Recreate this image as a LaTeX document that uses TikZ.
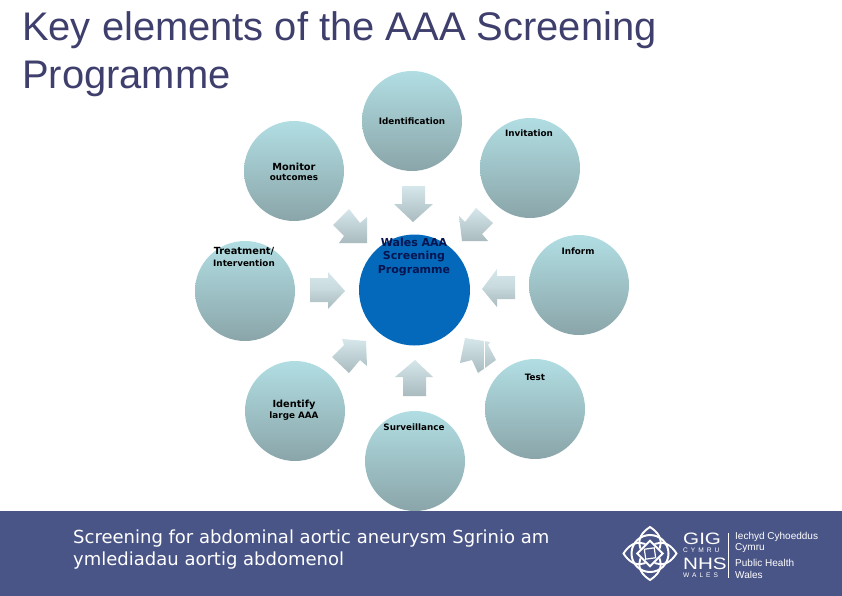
\documentclass[tikz,border=0pt]{standalone}
\usepackage{fontspec}
\usetikzlibrary{calc}
\setmainfont{Liberation Sans}
\newfontfamily\lblfont{DejaVu Sans}
\definecolor{band}{HTML}{4A5587}
\definecolor{titlecol}{HTML}{3F3F6E}
\definecolor{hub}{HTML}{0569BB}
\definecolor{hubtext}{HTML}{06144F}
\definecolor{arrowtop}{HTML}{D6E7EB}
\definecolor{arrowbot}{HTML}{A9BBBE}
\definecolor{stagetop}{HTML}{B1DEE3}
\definecolor{stagemid}{HTML}{A8CFD4}
\definecolor{stagebot}{HTML}{8AA5A9}
\pgfdeclareverticalshading{hband}{100bp}{color(0bp)=(arrowbot); color(25bp)=(arrowbot); color(49bp)=(arrowbot!40!arrowtop); color(51bp)=(arrowtop!70!arrowbot); color(75bp)=(arrowtop); color(100bp)=(arrowtop)}
\tikzset{
  x=1pt,y=-1pt,
  stage/.style={circle,minimum size=100pt,inner sep=0pt,top color=stagetop,middle color=stagemid,bottom color=stagebot},
  hubnode/.style={circle,fill=hub,minimum size=111pt,inner sep=0pt},
  blockarrow/.style={top color=arrowtop,bottom color=arrowbot,draw=none},
  bandarrow/.style={shading=hband,draw=none},
  lab/.style={font=\lblfont\bfseries\fontsize{9.8}{10}\selectfont,text=black,inner sep=0pt,align=center},
  labs/.style={font=\lblfont\bfseries\fontsize{8.8}{10}\selectfont,text=black,inner sep=0pt,align=center},
  hublab/.style={font=\lblfont\bfseries\fontsize{11}{11}\selectfont,text=hubtext,inner sep=0pt,text height=8pt,text depth=2pt},
  logotext/.style={font=\fontsize{#1}{#1}\selectfont,text=white,inner sep=0pt,anchor=west},
  logobig/.style={font=\fontsize{16.5}{17}\selectfont\addfontfeature{FakeStretch=1.25},text=white,inner sep=0pt,anchor=west},
  logocaps/.style={font=\fontsize{6.6}{7}\selectfont\addfontfeature{LetterSpace=45},text=white,inner sep=0pt,anchor=west},
  knot/.style={draw=white,line width=1.9pt,fill=none}
}
\begin{document}
\begin{tikzpicture}
\useasboundingbox (0,0) rectangle (842,596);
\fill[white] (0,0) rectangle (842,596);
\fill[band] (0,511) rectangle (842,596);
\node[anchor=west,inner sep=0pt,text=titlecol,font=\fontsize{39.9}{48}\selectfont,align=left] (title) at (22,54.5) {Key elements of the AAA Screening\\Programme};
% circles
\node[stage] (identification) at (412,121) {};
\node[stage] (invitation) at (530,168) {};
\node[stage] (monitor) at (294,171) {};
\node[stage] (treatment) at (245,291) {};
\node[stage] (inform) at (579,285) {};
\node[stage] (test) at (535,409) {};
\node[stage] (identify) at (295,411) {};
\node[stage] (surveillance) at (415,461) {};
\node[hubnode] (hub) at (414.5,290) {};
% arrows
\path[blockarrow] (402,186)--(425,186)--(425,204)--(433,204)--(413,222)--(394,204)--(402,204)--cycle;
\path[blockarrow] (349,209)--(333,225)--(344,236)--(339,243)--(367,243)--(367,217)--(360,223)--cycle;
\path[blockarrow] (459,216)--(465,222)--(476,208)--(493,223)--(482,234)--(488,241)--(462,241)--cycle;
\path[bandarrow] (310,278)--(328,278)--(328,272)--(345,291)--(328,309)--(328,302)--(310,302)--cycle;
\path[bandarrow] (515,276)--(497,276)--(497,269)--(482,289)--(497,307)--(497,299)--(515,299)--cycle;
\path[blockarrow] (342,339)--(366,341)--(367,366)--(360,360)--(349,373)--(332,357)--(344,345)--cycle;
\path[blockarrow] (465,338)--(490,342)--(488,345)--(496,360)--(478,373)--(472,360)--(460,363)--cycle;
\draw[white,line width=0.8pt] (484,340)--(484,369);
\path[blockarrow] (415,360)--(433,377)--(426,377)--(426,396)--(403,396)--(403,377)--(395,377)--cycle;
% labels
\node[labs] (lid) at (412,121) {Identification};
\node[labs] (linv) at (529,133) {Invitation};
\node[lab] (lmon) at (294,167) {Monitor};
\node[labs] (lout) at (294,177) {outcomes};
\node[lab] (ltre) at (244,251) {Treatment/};
\node[labs] (lint) at (244,263) {Intervention};
\node[labs] (linf) at (578,251) {Inform};
\node[labs] (ltes) at (535,377) {Test};
\node[lab] (lide) at (294,405) {Identify};
\node[labs] (llar) at (294,416) {large AAA};
\node[labs] (lsur) at (414,427) {Surveillance};
\node[hublab] (lw1) at (414,243) {Wales AAA};
\node[hublab] (lw2) at (414,256) {Screening};
\node[hublab] (lw3) at (414,270) {Programme};
% footer
\node[anchor=west,inner sep=0pt,text=white,font=\lblfont\fontsize{18}{22}\selectfont,align=left] (footer) at (73,549.5) {Screening for abdominal aortic aneurysm Sgrinio am\\ymlediadau aortig abdomenol};
% logo
\coordinate (kc) at (650,553.5);
\draw[white,line width=2pt] (kc) circle (18.5);
\foreach \a in {0,90,180,270}{
  \draw[knot,rotate around={\a:(kc)}] ($(kc)+(-8,-2)$) .. controls ($(kc)+(-15,-14)$) and ($(kc)+(-7,-22)$) .. ($(kc)+(0,-26.5)$) .. controls ($(kc)+(7,-22)$) and ($(kc)+(15,-14)$) .. ($(kc)+(8,-2)$);
}
\fill[band,rotate around={45:(kc)}] ($(kc)+(-10,-10)$) rectangle ($(kc)+(10,10)$);
\draw[knot,rotate around={45:(kc)}] ($(kc)+(-9,-9)$) rectangle ($(kc)+(9,9)$);
\draw[white,line width=1.2pt,rotate around={8:(kc)}] ($(kc)+(-5,-5)$) rectangle ($(kc)+(5,5)$);
\node[logobig] (gig) at (683,538.5) {GIG};
\node[logocaps] (cymru) at (683,550.5) {CYMRU};
\node[logobig] (nhs) at (683,563.5) {NHS};
\node[logocaps] (wales) at (683,575) {WALES};
\draw[white,line width=0.5pt] (728,533)--(728,578);
\node[logotext=10] (l1) at (735,537) {Iechyd Cyhoeddus};
\node[logotext=10] (l2) at (735,548) {Cymru};
\node[logotext=10] (l3) at (735,563) {Public Health};
\node[logotext=10] (l4) at (735,575) {Wales};
\end{tikzpicture}
\end{document}
